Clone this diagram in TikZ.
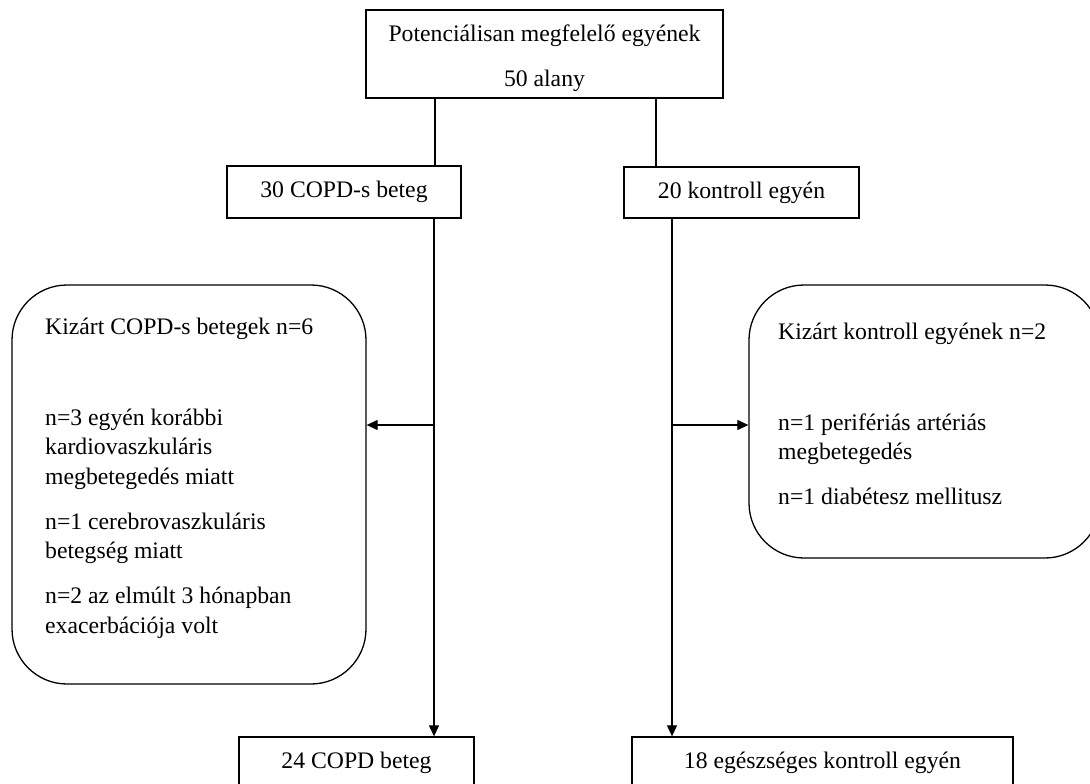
\documentclass[tikz,border=0pt]{standalone}
\usepackage{fontspec}
\setmainfont{Liberation Serif}
\usetikzlibrary{arrows.meta}
\begin{document}
\begin{tikzpicture}[x=1pt,y=-1pt,
  txt/.style={font=\fontsize{23.7}{29.5}\selectfont, text=black},
  box/.style={draw, line width=1.3pt, inner sep=0pt, txt},
  rbox/.style={draw, line width=1.3pt, inner sep=0pt, rounded corners=55pt},
  conn/.style={line width=1.2pt},
  arr/.style={conn, -{Triangle[length=11pt,width=10pt]}}]
\useasboundingbox (0,0) rectangle (1090,784);
\clip (0,0) rectangle (1090,784);

% boxes
\node[box, minimum width=357pt, minimum height=88pt,
  label={[txt, align=center, inner sep=0pt, yshift=-4pt]center:Potenciálisan megfelelő egyének\\[15.5pt]50 alany}] (top) at (544.5,54) {};
\node[box, minimum width=234pt, minimum height=52pt] (copd) at (344,192) {30 COPD-s beteg};
\node[box, minimum width=235pt, minimum height=51pt] (ctrl) at (741.5,192.5) {20 kontroll egyén};

\node[rbox, minimum width=354pt, minimum height=399pt] (excl) at (189,484.5) {};
\node[rbox, minimum width=351pt, minimum height=273pt] (exctrl) at (924.5,421.5) {};

\node[txt, anchor=north west, inner sep=0pt, align=left] (excltext) at (45,317.5)
  {Kizárt COPD-s betegek n=6\\[61.5pt]
   n=3 egyén korábbi\\
   kardiovaszkuláris\\
   megbetegedés miatt\\[15.5pt]
   n=1 cerebrovaszkuláris\\
   betegség miatt\\[15.5pt]
   n=2 az elmúlt 3 hónapban\\
   exacerbációja volt};
\node[txt, anchor=north west, inner sep=0pt, align=left] (exctrltext) at (778,322.5)
  {Kizárt kontroll egyének n=2\\[61.5pt]
   n=1 perifériás artériás\\
   megbetegedés\\[15.5pt]
   n=1 diabétesz mellitusz};

\node[box, minimum width=235pt, minimum height=51pt] (copdf) at (356.5,762.5) {24 COPD beteg};
\node[box, minimum width=381pt, minimum height=51pt] (ctrlf) at (822.5,762.5) {18 egészséges kontroll egyén};

% connectors
\coordinate (lx1) at (435,0);
\coordinate (rx1) at (656,0);
\coordinate (lx2) at (434,0);
\coordinate (rx2) at (672,0);
\coordinate (jl) at (434,425);
\coordinate (jr) at (672,425);

\draw[conn] (top.south -| lx1) -- (copd.north -| lx1);
\draw[conn] (top.south -| rx1) -- (ctrl.north -| rx1);
\draw[arr] (copd.south -| lx2) -- (copdf.north -| lx2);
\draw[arr] (ctrl.south -| rx2) -- (ctrlf.north -| rx2);
\draw[arr] (jl) -- (excl.east |- jl);
\draw[arr] (jr) -- (exctrl.west |- jr);
\end{tikzpicture}
\end{document}
